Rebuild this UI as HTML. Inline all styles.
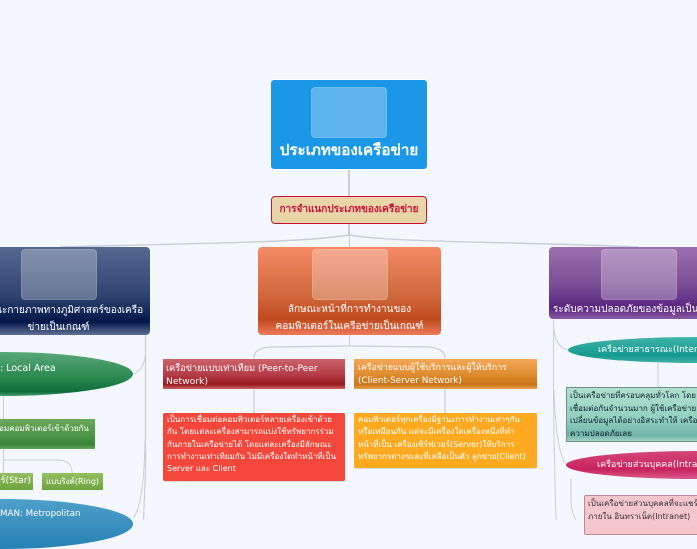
<!DOCTYPE html>
<html><head><meta charset="utf-8"><style>
html,body{margin:0;padding:0}
body{width:697px;height:520px;overflow:hidden;position:relative;background:#f4f7fe;font-family:"DejaVu Sans","Liberation Sans","Noto Sans CJK SC",sans-serif;color:#fff}
.a{position:absolute;box-sizing:border-box}
.t{position:absolute;white-space:nowrap;font-size:9px;line-height:13px}
.c{text-align:center}
.icon{position:absolute;width:76px;height:51px;top:2px;border-radius:4px;background:rgba(255,255,255,.28);border:1px solid rgba(255,255,255,.12);box-sizing:border-box}
svg{position:absolute;left:0;top:0}
</style></head><body>
<svg width="697" height="520" fill="none" stroke="#c9ced8" stroke-width="1">
<path d="M349 169V196" stroke-width="2"/>
<path d="M349 223V235" stroke-width="2"/>
<path d="M349 235C300 243 200 243 60 247" stroke-width="1.4"/>
<path d="M349 235C400 243 500 241 638 247" stroke-width="1.4"/>
<path d="M349.500 235V247"/>
<path d="M349.500 335V346"/>
<path d="M349 346L270 347Q254 348 254 358V413" stroke-width="1.2"/>
<path d="M349 346L430 347Q445 349 445 358V413" stroke-width="1.2"/>
<path d="M145.500 335V470L143.500 520" stroke-width="1.2"/>
<path d="M145.500 352Q145 370 133 374"/>
<path d="M145 440Q144 505 133 518"/>
<path d="M3.500 395V419"/>
<path d="M3.500 449V473" stroke-width="1.2"/>
<path d="M3 460H58Q72 460 72 473"/>
<path d="M553.500 320Q553 347 568 350"/>
<path d="M553.500 320V400Q554 450 556 520"/>
<path d="M554 390Q556 455 567 465"/>
<path d="M658 363V387"/>
<path d="M571 479V500Q571 512 576 520"/>
</svg>

<div class="a" style="left:270px;top:79px;width:158px;height:91px;background:#1b97e8;border:1px solid #fff;border-radius:4px"></div>
<div class="icon" style="left:311px;top:87px;background:#5db4ed"></div>
<div class="t c" style="left:270px;width:158px;top:140px;font-size:15.200px;line-height:20px;font-weight:bold">ประเภทของเครือข่าย</div>

<div class="a" style="left:271px;top:196px;width:156px;height:28px;background:#e8d5a8;border:1px solid #c8143c;border-radius:4px"></div>
<div class="t c" style="left:271px;width:156px;top:203px;font-size:10px;font-weight:bold;color:#c8143c">การจำแนกประเภทของเครือข่าย</div>

<!-- left -->
<div class="a" style="left:-33px;top:247px;width:183px;height:88px;border-radius:4px;background:linear-gradient(#56688f,#2f4470 55%,#02174a 85%,#5f7094)"></div>
<div class="icon" style="left:21px;top:249px"></div>
<div class="t c" style="left:-33px;width:183px;top:302px;font-size:10px;line-height:17px">ลักษณะกายภาพทางภูมิศาสตร์ของเครือ<br>ข่ายเป็นเกณฑ์</div>

<div class="a" style="left:-130px;top:352px;width:263px;height:44px;border-radius:50%;background:linear-gradient(#5aa878,#2c8a52 55%,#0f6d3b 90%,#4d9d6d)"></div>
<div class="t" style="left:0;top:362px;font-size:9.500px">: Local Area</div>

<div class="a" style="left:-60px;top:419px;width:155px;height:30px;background:linear-gradient(#6ca85c,#4b9344 60%,#3a8237 85%,#6aa85f)"></div>
<div class="t" style="left:-9px;top:422px;font-size:8px">เชื่อมคอมพิวเตอร์เข้าด้วยกัน</div>

<div class="a" style="left:-40px;top:473px;width:73px;height:17px;background:linear-gradient(#94be62,#6ea43d)"></div>
<div class="t" style="left:-33px;top:475px">แบบสตาร์(Star)</div>
<div class="a" style="left:42px;top:473px;width:61px;height:17px;background:linear-gradient(#94be62,#6ea43d)"></div>
<div class="t" style="left:46px;top:475px;font-size:8px">แบบริงค์(Ring)</div>

<div class="a" style="left:-130px;top:499px;width:263px;height:50px;border-radius:50%;background:linear-gradient(#4f9fc9,#2681b5)"></div>
<div class="t" style="left:0;top:508px;font-size:8.700px">MAN: Metropolitan</div>

<!-- center -->
<div class="a" style="left:258px;top:247px;width:183px;height:88px;border-radius:4px;background:linear-gradient(#f58a66,#d0683c 55%,#bf4a1c 82%,#ed7a5c)"></div>
<div class="icon" style="left:312px;top:249px"></div>
<div class="t c" style="left:258px;width:183px;top:301px;font-size:10px;line-height:17px">ลักษณะหน้าที่การทำงานของ<br>คอมพิวเตอร์ในเครือข่ายเป็นเกณฑ์</div>

<div class="a" style="left:163px;top:359px;width:182px;height:30px;background:linear-gradient(#cb636b,#b23a44 55%,#991b20 85%,#c66)"></div>
<div class="t" style="left:166px;top:362px;line-height:13px;font-size:9.200px">เครือข่ายแบบเท่าเทียม (Peer-to-Peer<br>Network)</div>
<div class="a" style="left:354px;top:359px;width:183px;height:30px;background:linear-gradient(#f4a858,#dd8a2c 55%,#c9741a 85%,#eb9e4a)"></div>
<div class="t" style="left:358px;top:362px;line-height:13px;font-size:8.800px">เครือข่ายแบบผู้ใช้บริการและผู้ให้บริการ<br>(Client-Server Network)</div>

<div class="a" style="left:163px;top:413px;width:182px;height:68px;background:#f4473b;border-radius:2px;box-shadow:0 1px 0 #d8dbe3"></div>
<div class="t" style="left:167px;top:414px;font-size:8px;line-height:12.300px">เป็นการเชื่อมต่อคอมพิวเตอร์หลายเครื่องเข้าด้วย<br>กัน โดยแต่ละเครื่องสามารถแบ่งใช้ทรัพยากรร่วม<br>กันภายในเครือข่ายได้ โดยแต่ละเครื่องมีลักษณะ<br>การทำงานเท่าเทียมกัน ไม่มีเครื่องใดทำหน้าที่เป็น<br>Server และ Client</div>

<div class="a" style="left:354px;top:413px;width:183px;height:55px;background:#fdaa20;border-radius:2px;box-shadow:0 1px 0 #d8dbe3"></div>
<div class="t" style="left:358px;top:414px;font-size:8px;line-height:12.300px">คอมพิวเตอร์ทุกเครื่องมีฐานะการทำงานเท่าๆกัน<br>หรือเหมือนกัน แต่จะมีเครื่องใดเครื่องหนึ่งที่ทำ<br>หน้าที่เป็น เครื่องเซิร์ฟเวอร์(Server)ให้บริการ<br>ทรัพยากรต่างๆและที่เหลือเป็นตัว ลูกข่าย(Client)</div>

<!-- right -->
<div class="a" style="left:549px;top:247px;width:183px;height:72px;border-radius:4px;background:linear-gradient(#9b70ae,#7c4f96 50%,#58257f 85%,#8a5ca6)"></div>
<div class="icon" style="left:601px;top:249px"></div>
<div class="t" style="left:553px;top:303px;font-size:10px">ระดับความปลอดภัยของข้อมูลเป็นเกณฑ์</div>

<div class="a" style="left:568px;top:337px;width:260px;height:26px;border-radius:50%;background:linear-gradient(#3fb3a8,#159a90 70%,#3fb0a6)"></div>
<div class="t" style="left:598px;top:344px">เครือข่ายสาธารณะ(Internet)</div>

<div class="a" style="left:566px;top:387px;width:200px;height:55px;background:linear-gradient(#b3e0cf,#8fd0bd 60%,#70b5a6 90%,#a0d4c5);border:1px solid #6f8f8a"></div>
<div class="t" style="left:570px;top:390px;color:#123;font-size:8px;line-height:12.500px">เป็นเครือข่ายที่ครอบคลุมทั่วโลก โดย<br>เชื่อมต่อกันจำนวนมาก ผู้ใช้เครือข่าย<br>เปลี่ยนข้อมูลได้อย่างอิสระทำให้ เครือ<br>ความปลอดภัยเลย</div>

<div class="a" style="left:566px;top:451px;width:260px;height:28px;border-radius:50%;background:linear-gradient(#d3487a,#c8225f 65%,#da5a88)"></div>
<div class="t" style="left:597px;top:459px">เครือข่ายส่วนบุคคล(Intranet)</div>

<div class="a" style="left:584px;top:495px;width:180px;height:40px;background:#f6c6cf;border:1px solid #b98a94;border-radius:2px"></div>
<div class="t" style="left:588px;top:497px;color:#333;font-size:8px;line-height:13px">เป็นเครือข่ายส่วนบุคคลที่จะแชร์<br>ภายใน อินทราเน็ต(Intranet)</div>
</body></html>
